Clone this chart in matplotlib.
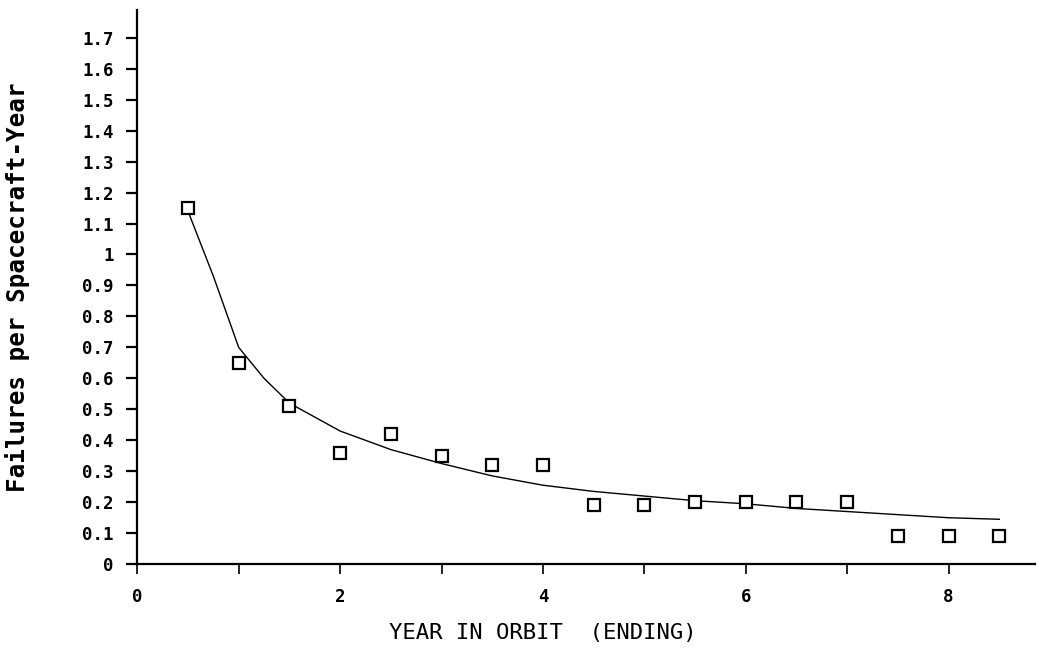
import matplotlib
matplotlib.use("Agg")
import matplotlib.pyplot as plt

# Observed failures per spacecraft-year (squares)
years = [0.5, 1.0, 1.5, 2.0, 2.5, 3.0, 3.5, 4.0, 4.5, 5.0, 5.5, 6.0, 6.5, 7.0, 7.5, 8.0, 8.5]
failures = [1.15, 0.65, 0.51, 0.36, 0.42, 0.35, 0.32, 0.32, 0.19, 0.19, 0.20, 0.20, 0.20, 0.20, 0.09, 0.09, 0.09]

# Fitted curve
fit_x = [0.5, 0.75, 1.0, 1.25, 1.5, 2.0, 2.5, 3.0, 3.5, 4.0, 4.5, 5.0, 5.5, 6.0, 6.5, 7.0, 7.5, 8.0, 8.5]
fit_y = [1.14, 0.93, 0.70, 0.60, 0.52, 0.43, 0.37, 0.325, 0.285, 0.255, 0.235, 0.22, 0.205,
         0.195, 0.18, 0.17, 0.16, 0.15, 0.145]

yticks = [0, 0.1, 0.2, 0.3, 0.4, 0.5, 0.6, 0.7, 0.8, 0.9, 1.0, 1.1, 1.2, 1.3, 1.4, 1.5, 1.6, 1.7]
ytick_labels = ["0", "0.1", "0.2", "0.3", "0.4", "0.5", "0.6", "0.7", "0.8", "0.9", "1",
                "1.1", "1.2", "1.3", "1.4", "1.5", "1.6", "1.7"]
xticks_major = [0, 2, 4, 6, 8]
xticks_minor = [1, 3, 5, 7]
xtick_labels = ["0", "2", "4", "6", "8"]

fig = plt.figure(figsize=(10.4, 6.53), dpi=100)
ax = fig.add_axes([0.132, 0.136, 0.863, 0.849])

ax.plot(fit_x, fit_y, color="black", linewidth=1.0)
ax.plot(years, failures, linestyle="none", marker="s", markersize=8,
        markerfacecolor="white", markeredgecolor="black", markeredgewidth=1.6)

ax.set_xlim(0, 8.85)
ax.set_ylim(0, 1.79)
for s in ["top", "right"]:
    ax.spines[s].set_visible(False)
for s in ["left", "bottom"]:
    ax.spines[s].set_linewidth(1.6)

ax.set_yticks(yticks)
ax.set_yticklabels(ytick_labels, fontfamily="DejaVu Sans Mono", fontweight="bold", fontsize=12.5)
ax.set_xticks(xticks_major)
ax.set_xticklabels(xtick_labels, fontfamily="DejaVu Sans Mono", fontweight="bold", fontsize=12.5)
ax.set_xticks(xticks_minor, minor=True)
ax.tick_params(axis="y", direction="out", length=8, width=1.6, pad=9)
ax.tick_params(axis="x", which="both", direction="out", length=7, width=1.2, pad=10)

ax.set_xlabel("YEAR IN ORBIT  (ENDING)", fontfamily="DejaVu Sans Mono", fontsize=16)
ax.xaxis.set_label_coords(0.452, -0.106)
ax.set_ylabel("Failures per Spacecraft-Year", fontfamily="DejaVu Sans Mono", fontweight="bold",
              fontsize=17.5)
ax.yaxis.set_label_coords(-0.12, 0.5)

fig.savefig("out.png", dpi=100)
